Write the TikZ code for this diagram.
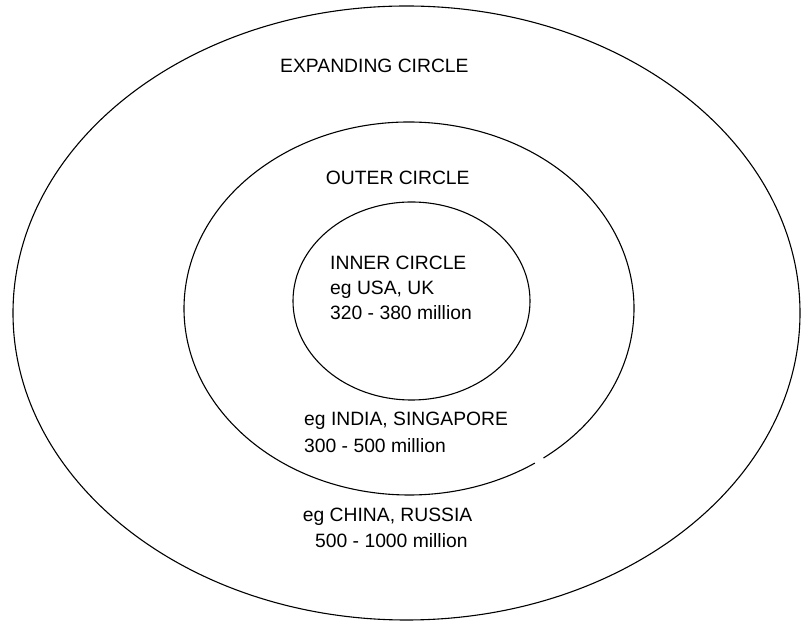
\documentclass[tikz,border=0pt]{standalone}
\usepackage{fontspec}
\setmainfont{Liberation Sans}
\begin{document}
\begin{tikzpicture}[x=1pt,y=1pt,
  ring/.style={line width=1.1pt,black},
  lbl/.style={anchor=base west,inner sep=0pt,font=\fontsize{19.3}{23}\selectfont}]
\useasboundingbox (0,0) rectangle (801,621);
% rings
\draw[ring] (406.5,308) ellipse [x radius=393.5, y radius=307];
\draw[ring] ([shift={(-53.3:225 and 186.5)}]409,312.5) arc [start angle=-53.3, end angle=304, x radius=225, y radius=186.5];
\draw[ring] (411.5,320) ellipse [x radius=118.5, y radius=99];
% labels
\node[lbl] (exp) at (280,548.7) {EXPANDING CIRCLE};
\node[lbl] (out) at (325.7,436) {OUTER CIRCLE};
\node[lbl] (inn) at (330,351.7) {INNER CIRCLE};
\node[lbl] (inn2) at (330,326) {eg USA, UK};
\node[lbl] (inn3) at (330,301) {320 - 380 million};
\node[lbl] (out2) at (304,195) {eg INDIA, SINGAPORE};
\node[lbl] (out3) at (304,168.3) {300 - 500 million};
\node[lbl] (exp2) at (302.7,99.3) {eg CHINA, RUSSIA};
\node[lbl] (exp3) at (315,73) {500 - 1000 million};
\end{tikzpicture}
\end{document}
